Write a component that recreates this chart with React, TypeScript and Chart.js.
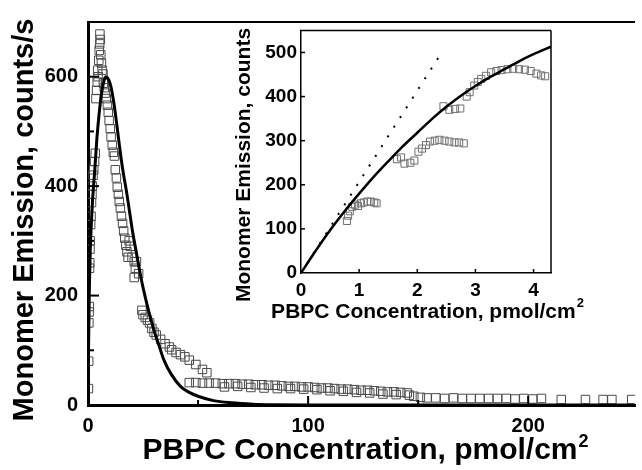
import React, { useEffect, useRef } from 'react';
import { Chart, registerables } from 'chart.js';
Chart.register(...registerables);

// ---------- main panel data ----------
const mainFitX = [0, 0.3, 0.6, 1, 1.5, 2, 3, 4, 5, 6, 7, 8, 9, 10, 11, 12, 13, 14, 15, 16, 17.5, 19, 20.2, 22, 24, 26, 28, 30, 32, 34.5, 38, 42, 46, 50, 57, 65, 75, 85, 100, 150, 200, 248];
const mainFitY = [0, 120, 210, 280, 330, 370, 425, 485, 530, 565, 588, 600, 597, 588, 570, 545, 515, 483, 452, 425, 390, 350, 318, 278, 234, 197, 165, 136, 112, 82, 55, 34, 23, 16, 8, 4, 1.5, 0.5, 0, 0, 0, 0];

const mainDataX = [
  0.2, 0.3, 0.4, 0.5, 0.6, 0.7, 0.8, 0.9, 1.0, 1.2, 1.4, 1.6, 1.8, 2.0, 2.3, 2.6, 3.0, 3.3,
  3.6, 3.9, 4.2, 4.4, 4.6, 4.9, 5.1, 5.3, 5.4, 5.6, 5.8, 6.1, 6.4, 6.8, 7.0, 7.4, 7.8,
  8.3, 8.8, 9.2, 9.6, 10.1, 10.5, 11.0, 11.5, 12.0, 12.4, 12.9, 13.3, 13.8, 14.2, 14.7, 15.2, 15.7, 16.2, 16.7, 17.2, 17.7, 18.2, 18.7, 19.2, 20.0, 21.0, 21.5, 22.0, 23.0, 21.0, 24.5, 25.0, 26.0, 27.0, 28.0, 29.0,
  30, 31, 33, 35, 37, 38, 40, 42, 44, 46, 49, 52, 54,
  46, 49, 52, 55, 58, 61, 64, 67, 70, 73, 76, 79, 82, 85, 88, 91, 94, 97, 100, 103, 106, 109, 112, 115, 118, 121, 124, 127, 130, 133, 136, 139, 142, 145,
  62, 68, 74, 80, 86, 92, 98, 104, 110, 116, 122, 128, 134, 140, 146,
  148, 151, 154, 158, 162, 166, 170, 174, 178, 182, 186, 190, 194, 198, 202, 206, 215, 226, 234, 238, 247
];
const mainDataY = [
  30, 80, 150, 170, 180, 250, 260, 285, 300, 330, 345, 370, 385, 400, 420, 430, 445, 460,
  560, 575, 590, 612, 600, 630, 648, 660, 678, 668, 640, 625, 612, 605, 588, 580, 570,
  560, 548, 535, 520, 505, 490, 475, 462, 455, 430, 415, 398, 385, 372, 360, 345, 332, 318, 305, 292, 280, 270, 300, 290, 270, 262, 250, 262, 240, 233, 173, 165, 160, 155, 150, 140,
  133, 128, 120, 112, 106, 101, 96, 92, 88, 82, 74, 65, 59,
  41, 41, 40, 40, 40, 39, 39, 39, 38, 38, 37, 37, 36, 36, 35, 34, 34, 33, 33, 32, 31, 31, 30, 29, 29, 28, 27, 27, 26, 25, 24, 24, 23, 22,
  33, 34, 32, 31, 30, 30, 29, 28, 26, 25, 23, 22, 20, 19, 18,
  16, 14, 13, 13, 12, 13, 12, 12, 12, 12, 12, 12, 11, 12, 11, 12, 10, 10, 10, 10, 10
];

const mainXMajor = [100, 200];
const mainXMinor = [50, 150];
const mainYMajor = [200, 400, 600];
const mainYMinor = [100, 300, 500];

// ---------- inset data ----------
const insetFitX = [0, 0.25, 0.5, 0.75, 1, 1.25, 1.5, 1.75, 2, 2.25, 2.5, 2.75, 3, 3.25, 3.5, 3.75, 4, 4.3];
const insetFitY = [0, 50, 97, 140, 180, 218, 253, 287, 318, 349, 377, 402, 424, 444, 462, 480, 496, 513];
const insetLineX = [0, 2.4];
const insetLineY = [0, 496];
const insetDataX = [
  0.79, 0.81, 0.84, 0.88, 0.93, 0.98, 1.03, 1.08, 1.14, 1.2, 1.26, 1.3,
  1.65, 1.72, 1.78, 1.88, 1.95, 2.02, 2.08, 2.15, 2.22, 2.3, 2.38, 2.47, 2.55, 2.64, 2.72, 2.8,
  2.45, 2.55, 2.65, 2.74, 2.85, 2.9, 2.98, 3.04, 3.1, 3.18, 3.27, 3.36, 3.45, 3.55, 3.65, 3.75, 3.85, 3.95, 4.05, 4.13, 4.2
];
const insetDataY = [
  118, 130, 140, 150, 155, 152, 158, 160, 162, 162, 160, 158,
  258, 262, 248, 250, 255, 275, 282, 290, 298, 300, 302, 300, 298, 296, 296, 294,
  378, 370, 372, 373, 400, 410, 425, 433, 440, 447, 455, 458, 460, 462, 463, 462, 461, 458, 452, 448, 446
];
const insetXTicks = [1, 2, 3, 4];
const insetYTicks = [100, 200, 300, 400, 500];

const FONT = '"Liberation Sans", Arial, Helvetica, sans-serif';

const pts = (xs: number[], ys: number[]) => xs.map((x, i) => ({ x, y: ys[i] }));

const framePlugin = {
  id: 'frame',
  afterDraw(chart: any) {
    const o = chart.options.plugins.frame;
    if (!o) return;
    const { ctx, chartArea: a, scales } = chart;
    ctx.save();
    ctx.strokeStyle = '#000';
    ctx.lineCap = 'butt';
    // extra borders
    (o.lines || []).forEach((l: any) => {
      ctx.lineWidth = l.w;
      ctx.beginPath();
      if (l.side === 'top') { ctx.moveTo(a.left - 1, a.top); ctx.lineTo(a.right, a.top); }
      if (l.side === 'right') { ctx.moveTo(a.right, a.top); ctx.lineTo(a.right, a.bottom); }
      ctx.stroke();
    });
    // inward ticks
    (o.ticks || []).forEach((t: any) => {
      ctx.lineWidth = t.w;
      t.values.forEach((v: number) => {
        ctx.beginPath();
        if (t.axis === 'x') {
          const px = scales.x.getPixelForValue(v);
          ctx.moveTo(px, a.bottom);
          ctx.lineTo(px, a.bottom - t.len);
        } else {
          const py = scales.y.getPixelForValue(v);
          ctx.moveTo(a.left, py);
          ctx.lineTo(a.left + t.len, py);
        }
        ctx.stroke();
      });
    });
    // titles
    ctx.fillStyle = '#000';
    ctx.textAlign = 'left';
    ctx.textBaseline = 'alphabetic';
    (o.titles || []).forEach((t: any) => {
      ctx.font = `bold ${t.size}px ${FONT}`;
      const w1 = ctx.measureText(t.text).width;
      ctx.font = `bold ${t.supSize}px ${FONT}`;
      const w2 = t.sup ? ctx.measureText(t.sup).width : 0;
      const w = w1 + w2;
      ctx.save();
      ctx.translate(t.x, t.y);
      if (t.rot) ctx.rotate(-Math.PI / 2);
      ctx.font = `bold ${t.size}px ${FONT}`;
      ctx.fillText(t.text, -w / 2, 0);
      if (t.sup) {
        ctx.font = `bold ${t.supSize}px ${FONT}`;
        ctx.fillText(t.sup, -w / 2 + w1 + 1, -t.raise);
      }
      ctx.restore();
    });
    ctx.restore();
  },
};

function MainChart() {
  const ref = useRef<HTMLCanvasElement>(null);
  useEffect(() => {
    const chart = new Chart(ref.current as HTMLCanvasElement, {
      type: 'scatter',
      data: {
        datasets: [
          {
            data: pts(mainFitX, mainFitY),
            showLine: true,
            borderColor: '#000',
            borderWidth: 3,
            pointRadius: 0,
            tension: 0.3,
            cubicInterpolationMode: 'monotone',
          } as any,
          {
            data: pts(mainDataX, mainDataY),
            pointStyle: 'rect',
            pointRadius: 6,
            pointBorderWidth: 1,
            pointBorderColor: '#4a4a4a',
            pointBackgroundColor: 'rgba(0,0,0,0)',
            showLine: false,
          },
        ],
      },
      options: {
        animation: false,
        responsive: false,
        devicePixelRatio: 1,
        layout: { padding: { top: 11, left: 0, right: 0, bottom: 0 } },
        plugins: {
          legend: { display: false },
          tooltip: { enabled: false },
          frame: {
            lines: [{ side: 'top', w: 2 }],
            ticks: [
              { axis: 'x', values: mainXMajor, len: 9, w: 2 },
              { axis: 'x', values: mainXMinor, len: 5, w: 2 },
              { axis: 'y', values: mainYMajor, len: 11, w: 2 },
              { axis: 'y', values: mainYMinor, len: 6, w: 2 },
            ],
            titles: [
              { text: 'PBPC Concentration, pmol/cm', sup: '2', size: 30, supSize: 18, raise: 12, x: 365, y: 459, rot: false },
              { text: 'Monomer Emission, counts/s', sup: '', size: 29, supSize: 18, raise: 0, x: 33, y: 220, rot: true },
            ],
          },
        } as any,
        scales: {
          x: {
            type: 'linear',
            min: 0,
            max: 248.5,
            grid: { display: false, drawTicks: false },
            border: { display: true, width: 3, color: '#000' },
            ticks: {
              stepSize: 100,
              includeBounds: false,
              padding: 9,
              color: '#000',
              font: { family: FONT, size: 20, weight: 'bold' },
              maxRotation: 0,
            },
            afterFit: (s: any) => { s.height = 65; },
          },
          y: {
            type: 'linear',
            min: 0,
            max: 700,
            grid: { display: false, drawTicks: false },
            border: { display: true, width: 3, color: '#000' },
            ticks: {
              stepSize: 200,
              includeBounds: false,
              padding: 10,
              color: '#000',
              font: { family: FONT, size: 20, weight: 'bold' },
            },
            afterFit: (s: any) => { s.width = 88; },
          },
        },
      },
      plugins: [framePlugin],
    } as any);
    return () => chart.destroy();
  }, []);
  return <canvas ref={ref} width={642} height={470} style={{ position: 'absolute', left: 0, top: 0 }} />;
}

function InsetChart() {
  const ref = useRef<HTMLCanvasElement>(null);
  useEffect(() => {
    const chart = new Chart(ref.current as HTMLCanvasElement, {
      type: 'scatter',
      data: {
        datasets: [
          {
            data: pts(insetFitX, insetFitY),
            showLine: true,
            borderColor: '#000',
            borderWidth: 2.5,
            pointRadius: 0,
            cubicInterpolationMode: 'monotone',
          } as any,
          {
            data: pts(insetLineX, insetLineY),
            showLine: true,
            borderColor: '#000',
            borderWidth: 2,
            borderDash: [2, 9.5],
            pointRadius: 0,
          },
          {
            data: pts(insetDataX, insetDataY),
            pointStyle: 'rect',
            pointRadius: 5,
            pointBorderWidth: 1,
            pointBorderColor: '#707070',
            pointBackgroundColor: 'rgba(0,0,0,0)',
            showLine: false,
          },
        ],
      },
      options: {
        animation: false,
        responsive: false,
        devicePixelRatio: 1,
        layout: { padding: { top: 11, left: 0, right: 49, bottom: 0 } },
        plugins: {
          legend: { display: false },
          tooltip: { enabled: false },
          frame: {
            lines: [{ side: 'top', w: 1.5 }, { side: 'right', w: 1.5 }],
            ticks: [
              { axis: 'x', values: insetXTicks, len: 4, w: 1.5 },
              { axis: 'y', values: insetYTicks, len: 4, w: 1.5 },
            ],
            titles: [
              { text: 'PBPC Concentration, pmol/cm', sup: '2', size: 21, supSize: 13, raise: 11, x: 207, y: 303, rot: false },
              { text: 'Monomer Emission, counts', sup: '', size: 21, supSize: 13, raise: 0, x: 30, y: 150, rot: true },
            ],
          },
        } as any,
        scales: {
          x: {
            type: 'linear',
            min: 0,
            max: 4.3,
            grid: { display: false, drawTicks: false },
            border: { display: true, width: 1.5, color: '#000' },
            ticks: {
              stepSize: 1,
              includeBounds: false,
              padding: 6,
              color: '#000',
              font: { family: FONT, size: 19, weight: 'bold' },
              maxRotation: 0,
            },
            afterFit: (s: any) => { s.height = 62; },
          },
          y: {
            type: 'linear',
            min: 0,
            max: 550,
            grid: { display: false, drawTicks: false },
            border: { display: true, width: 1.5, color: '#000' },
            ticks: {
              stepSize: 100,
              includeBounds: false,
              padding: 4,
              color: '#000',
              font: { family: FONT, size: 19, weight: 'bold' },
            },
            afterFit: (s: any) => { s.width = 81; },
          },
        },
      },
      plugins: [framePlugin],
    } as any);
    return () => chart.destroy();
  }, []);
  return <canvas ref={ref} width={380} height={320} style={{ position: 'absolute', left: 220, top: 15 }} />;
}

export default function App() {
  return (
    <div style={{ position: 'fixed', left: 0, top: 0, width: 642, height: 470, background: '#fff', overflow: 'hidden' }}>
      <MainChart />
      <InsetChart />
    </div>
  );
}
